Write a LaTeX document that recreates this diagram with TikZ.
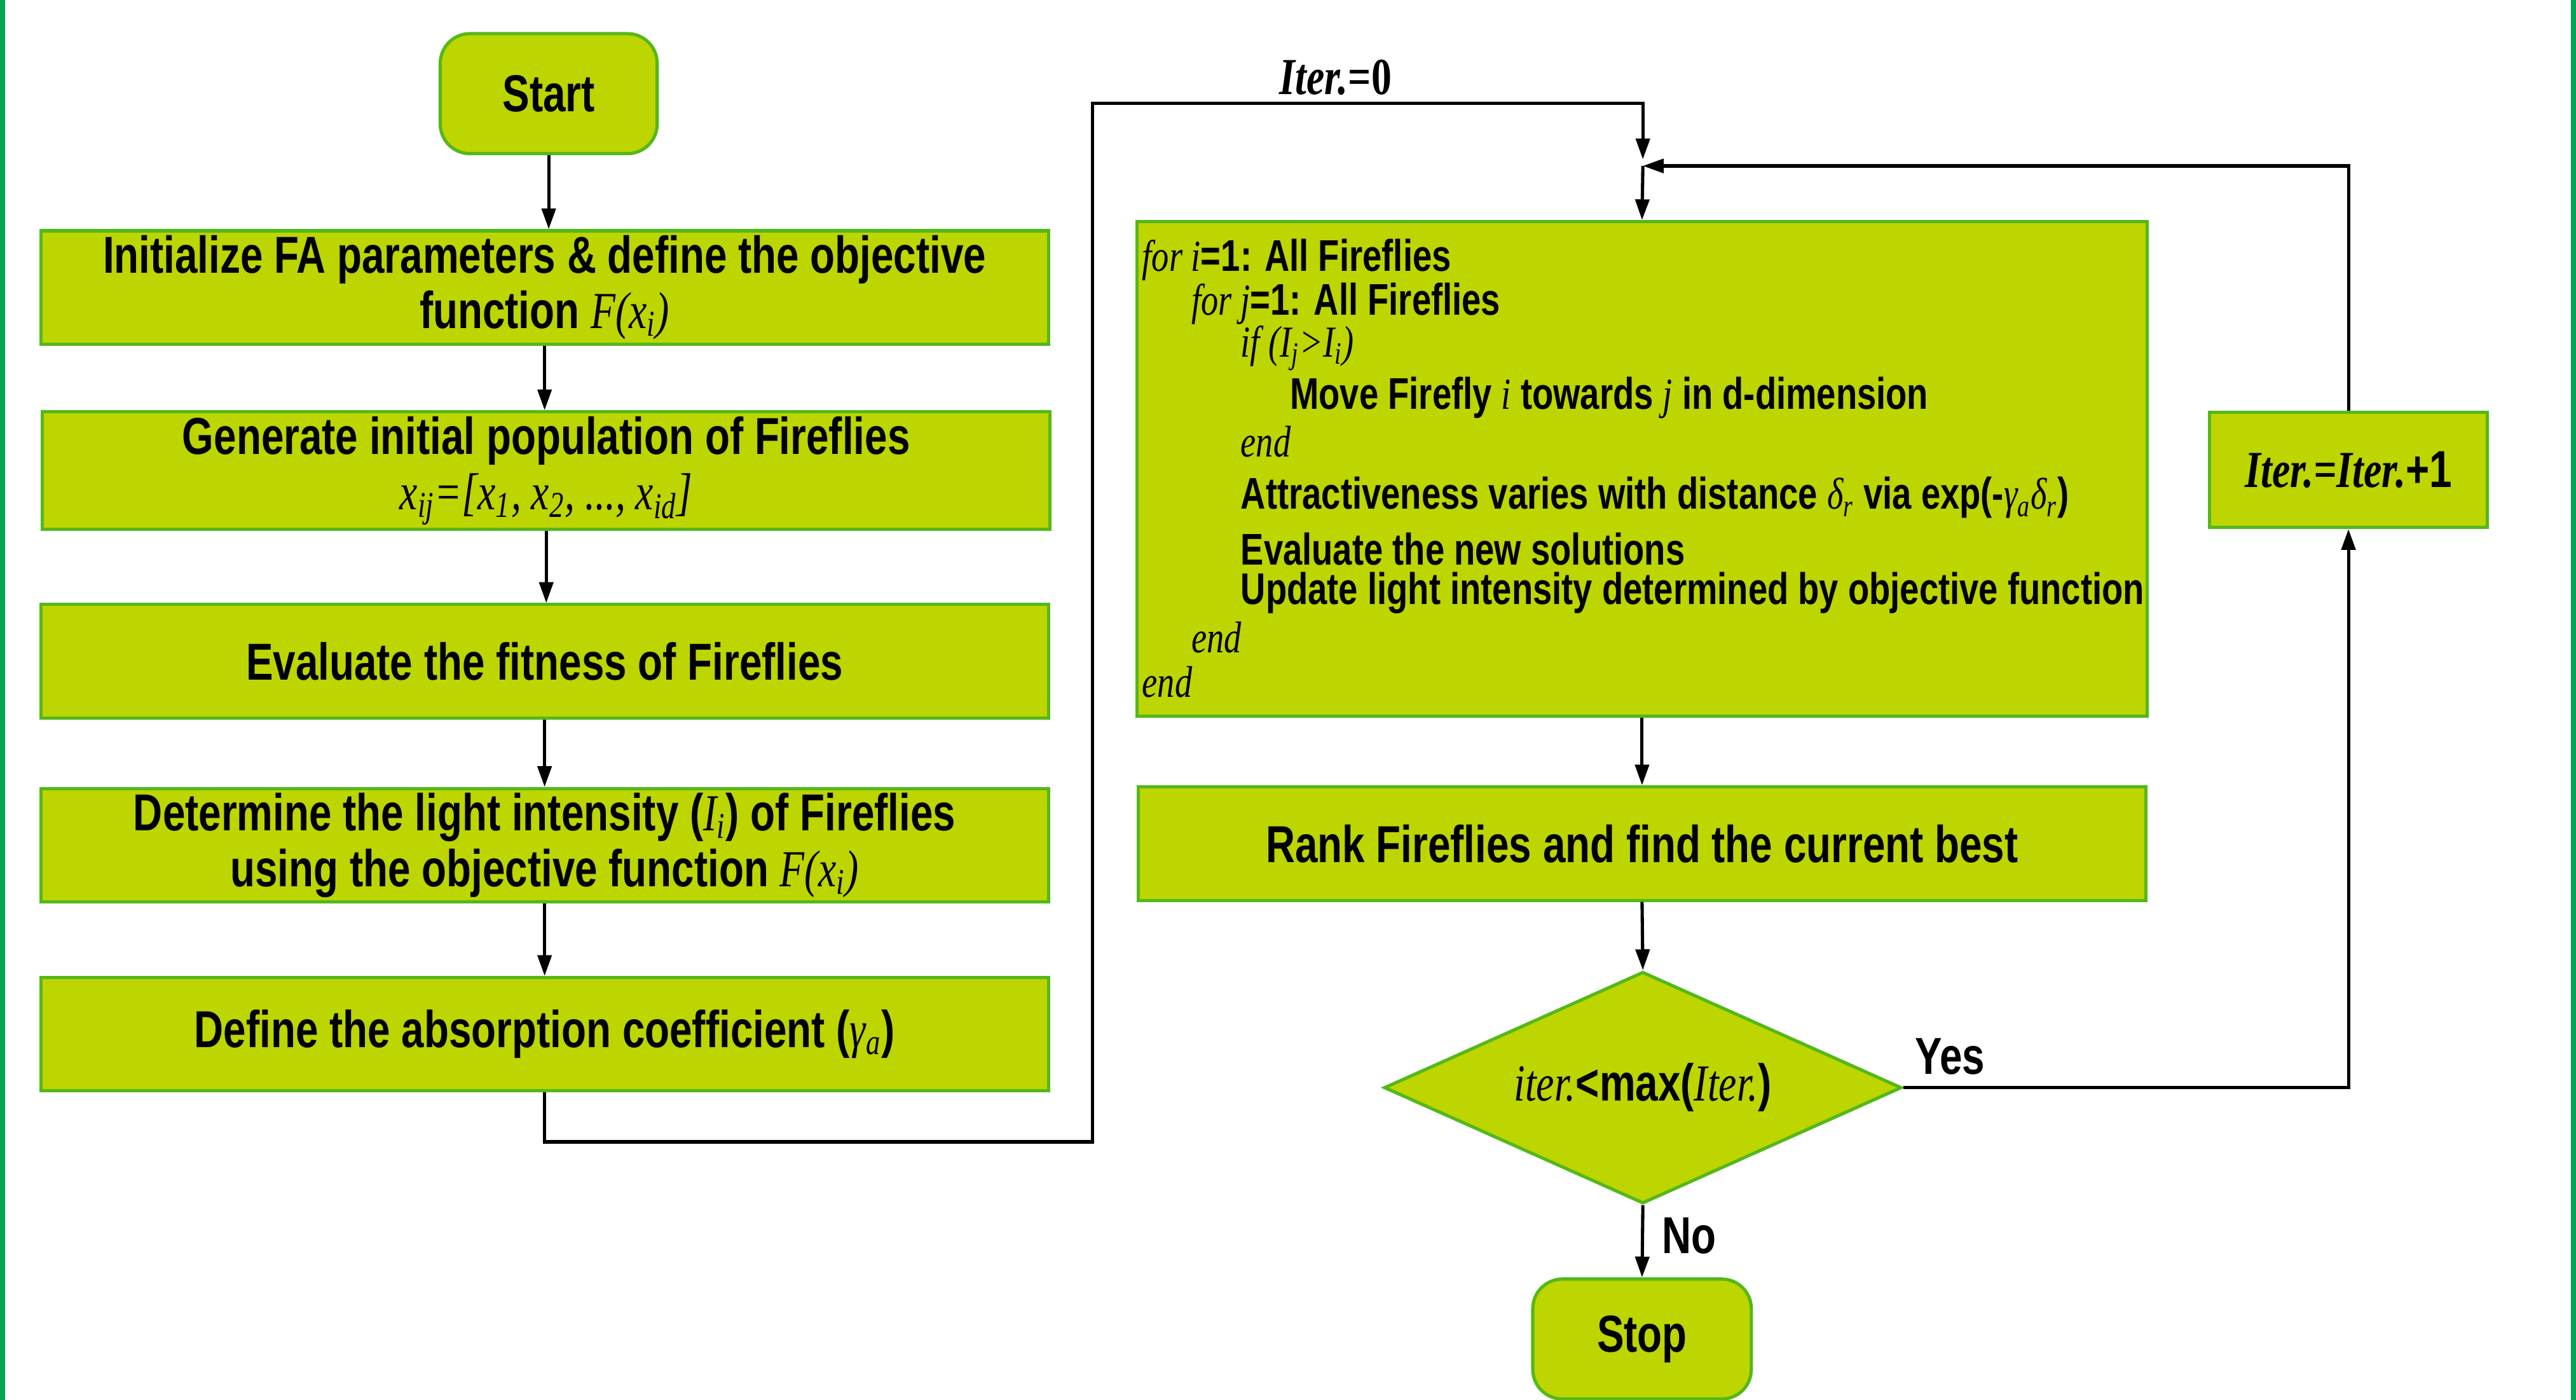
\documentclass[tikz,border=0pt]{standalone}
\usepackage{fontspec}
\setmainfont{Liberation Sans}[FakeStretch=0.78]
\newfontfamily\serifit{Liberation Serif}[FakeStretch=0.78]
\usetikzlibrary{shapes.geometric, arrows.meta}
\usetikzlibrary{positioning, calc}
\definecolor{ffill}{RGB}{189,213,0}
\definecolor{fline}{RGB}{84,184,26}
\definecolor{fframe}{RGB}{0,166,81}
\newcommand{\vr}[1]{{\serifit\mdseries\itshape #1}}
\newcommand{\txtfont}{\fontsize{22.5}{24}\selectfont}
\newcommand{\codefont}{\fontsize{19.2}{20}\selectfont}

\begin{document}
\begin{tikzpicture}[x=0.025cm, y=-0.025cm,
    box/.style={rectangle, draw=fline, fill=ffill, line width=1.4pt,
        minimum width=15.33cm, minimum height=1.725cm, align=center,
        inner sep=2pt, font=\txtfont\bfseries},
    term/.style={box, rounded corners=0.45cm, minimum width=3.3cm,
        minimum height=1.825cm},
    arr/.style={-{Triangle[length=9pt,width=6pt]}, line width=1.4pt},
    lbl/.style={font=\txtfont\bfseries, inner sep=0pt}]

    \useasboundingbox (0,0) rectangle (1568,852);
    \draw[fframe, line width=3pt] (1,0) -- (1,852);
    \draw[fframe, line width=3pt] (1567,0) -- (1567,852);

    \node[term] (start) at (334,57) {Start};
    \node[box] (init) at (331.5,175)
        {Initialize FA parameters \& define the objective\\function \vr{F(x\textsubscript{i})}};
    \node[box] (gen) at (332.5,286.5)
        {Generate initial population of Fireflies\\\vr{x\textsubscript{ij}=[x\textsubscript{1}, x\textsubscript{2}, ..., x\textsubscript{id}]}};
    \node[box] (eval) at (331.5,402.5) {Evaluate the fitness of Fireflies};
    \node[box] (det) at (331.5,514.5)
        {Determine the light intensity (\vr{I\textsubscript{i}}) of Fireflies\\using the objective function \vr{F(x\textsubscript{i})}};
    \node[box] (def) at (331.5,629.5) {Define the absorption coefficient (\vr{γ\textsubscript{a}})};

    \node[box, minimum width=15.375cm, minimum height=7.525cm] (fa) at (999.5,285.5) {};
    \foreach \xx/\yy/\txt [count=\k] in {
        695/158/{\vr{for i}=1: All Fireflies},
        725/185/{\vr{for j}=1: All Fireflies},
        755/212/{\vr{if (I\textsubscript{j}>I\textsubscript{i})}},
        785/242/{Move Firefly \vr{i} towards \vr{j} in d-dimension},
        755/269/{\vr{end}},
        755/303/{Attractiveness varies with distance \vr{δ\textsubscript{r}} via exp(-\vr{γ\textsubscript{a}δ\textsubscript{r}})},
        755/334/{Evaluate the new solutions},
        755/361/{Update light intensity determined by objective function},
        725/388/{\vr{end}},
        695/415/{\vr{end}}}
        \node[anchor=west, inner sep=0pt, font=\codefont\bfseries] (ln\k) at (\xx,\yy) {\txt};

    \node[box] (rank) at (999.5,513.5) {Rank Fireflies and find the current best};
    \node[box, diamond, aspect=2.23, minimum width=7.875cm, minimum height=3.525cm,
        inner sep=0pt] (dec) at (1000,662) {\vr{iter.}<max(\vr{Iter.})};
    \node[term, minimum width=3.325cm] (stop) at (999.5,815) {Stop};
    \node[box, minimum width=4.225cm, minimum height=1.75cm] (inc) at (1429.5,286)
        {{\serifit\itshape Iter.=Iter.}+1};

    \coordinate (bendA) at (665,695);
    \coordinate (bendB) at (1000,63);
    \coordinate (mergeIn) at (1000,97);
    \coordinate (merge) at (1000,101);

    \foreach \a/\b in {start/init, init/gen, gen/eval, eval/det, det/def}
        \draw[arr] (\a.south) -- (\a.south |- \b.north);

    \draw[arr] (def.south) |- (bendA) |- (bendB) -- (mergeIn);
    \draw[arr] (merge) -- (fa.north);
    \draw[arr] (inc.north) |- (merge);
    \draw[arr] (fa.south) -- (rank.north);
    \draw[arr] (rank.south) -- (dec.north);
    \draw[arr] (dec.south) -- (stop.north);
    \draw[arr] (dec.east) -| (inc.south);

    \node[lbl] (zero) at (813,47) {{\serifit\bfseries\itshape Iter.}{\serifit\bfseries =0}};
    \node[lbl] (yes) at (1187,643) {Yes};
    \node[lbl] (no) at (1028,752) {No};

\end{tikzpicture}
\end{document}
